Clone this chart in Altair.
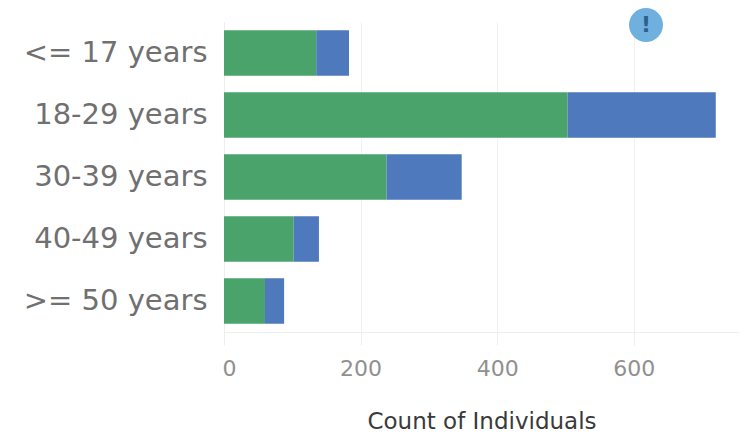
import altair as alt
import pandas as pd

age_groups = ["<= 17 years", "18-29 years", "30-39 years", "40-49 years", ">= 50 years"]
green_values = [135, 503, 238, 102, 60]
blue_values = [48, 217, 110, 37, 28]
series_names = ["Group A", "Group B"]
series_colors = ["#4ba36c", "#4e79bd"]

rows = []
for age, g, b in zip(age_groups, green_values, blue_values):
    rows.append({"age": age, "series": series_names[0], "count": g, "order": 0})
    rows.append({"age": age, "series": series_names[1], "count": b, "order": 1})
df = pd.DataFrame(rows)

bars = alt.Chart(df).mark_bar(clip=False).encode(
    y=alt.Y(
        "age:N",
        sort=age_groups,
        title=None,
        scale=alt.Scale(paddingInner=0.27, paddingOuter=0.135),
        axis=alt.Axis(
            labelFont="DejaVu Sans", labelFontSize=29, labelColor="#707070", labelPadding=17,
            labelLimit=300, ticks=False, domain=True, domainColor="#eeeeee", grid=False,
        ),
    ),
    x=alt.X(
        "count:Q",
        stack="zero",
        title="Count of Individuals",
        scale=alt.Scale(domain=[0, 754], nice=False),
        axis=alt.Axis(
            values=[0, 200, 400, 600], format="d",
            labelFont="DejaVu Sans", labelFontSize=22, labelColor="#909090", labelPadding=13,
            labelFlush=True, labelFlushOffset=2,
            tickColor="#eeeeee", tickSize=13, domainColor="#eeeeee",
            grid=True, gridColor="#f0f0f0",
            titleFont="DejaVu Sans", titleFontSize=23, titleFontWeight="normal",
            titleColor="#3a3a3a", titlePadding=31,
        ),
    ),
    color=alt.Color("series:N", scale=alt.Scale(domain=series_names, range=series_colors), legend=None),
    order=alt.Order("order:Q"),
)

icon = alt.Chart(pd.DataFrame({"mark": ["!"]})).mark_point(
    filled=True, size=1156, color="#6fb0de", opacity=1, clip=False
).encode(x=alt.value(422), y=alt.value(3))

icon_text = alt.Chart(pd.DataFrame({"mark": ["!"]})).mark_text(
    font="DejaVu Sans", fontSize=22, fontWeight="bold", color="#2f5f8f", baseline="middle", align="center"
).encode(x=alt.value(422), y=alt.value(3), text="mark:N")

chart = (bars + icon + icon_text).properties(
    width=515, height=310,
    autosize=alt.AutoSizeParams(type="none"),
    padding={"left": 216, "top": 14, "right": 2, "bottom": 100},
).configure_view(stroke=None)

chart.save("out.html", embed_options={"renderer": "svg", "actions": False})
